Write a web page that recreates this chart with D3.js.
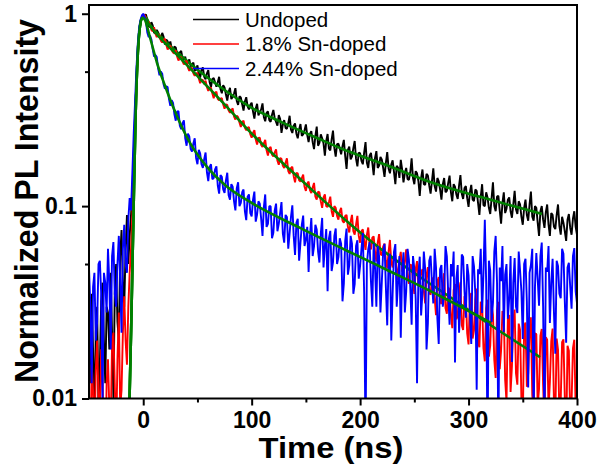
<!DOCTYPE html>
<html>
<head>
<meta charset="utf-8">
<script src="https://cdn.jsdelivr.net/npm/d3@7/dist/d3.min.js"></script>
<style>
  body { margin: 0; background: #fff; }
  svg text { font-family: "Liberation Sans", Arial, sans-serif; }
</style>
</head>
<body>
<div id="chart"></div>
<script>
// time grid of the measured decays (ns)
const timeStart = -50;
const timeStep = 1.25;

// measured decays, normalized PL intensity (one value per grid step, 20 per row = 25 ns)
const undoped = [
  0.02, 0.012, 0.035, 0.018, 0.008, 0.022, 0.03, 0.009, 0.015, 0.032, 0.04, 0.02, 0.012, 0.03, 0.028, 0.018, 0.045, 0.022, 0.01, 0.035,
  0.05, 0.025, 0.02, 0.055, 0.075, 0.04, 0.03, 0.06, 0.09, 0.05, 0.07, 0.09, 0.12, 0.19, 0.3, 0.45, 0.62, 0.78, 0.9, 0.95,
  0.97, 0.985, 0.99, 0.93, 0.863, 0.85, 0.903, 0.87, 0.797, 0.79, 0.824, 0.80, 0.758, 0.735, 0.795, 0.76, 0.691, 0.735, 0.719, 0.68,
  0.717, 0.66, 0.636, 0.675, 0.668, 0.615, 0.604, 0.63, 0.641, 0.585, 0.576, 0.598, 0.543, 0.56, 0.579, 0.532, 0.547, 0.556, 0.506, 0.51,
  0.539, 0.488, 0.465, 0.51, 0.526, 0.47, 0.456, 0.49, 0.509, 0.44, 0.416, 0.458, 0.463, 0.44, 0.417, 0.44, 0.470, 0.405, 0.386, 0.425,
  0.414, 0.38, 0.354, 0.392, 0.412, 0.36, 0.369, 0.385, 0.410, 0.352, 0.336, 0.372, 0.367, 0.338, 0.314, 0.35, 0.368, 0.33, 0.318, 0.336,
  0.345, 0.31, 0.285, 0.322, 0.340, 0.296, 0.307, 0.318, 0.342, 0.29, 0.276, 0.305, 0.311, 0.28, 0.274, 0.298, 0.316, 0.287, 0.274, 0.262,
  0.297, 0.284, 0.240, 0.265, 0.280, 0.255, 0.252, 0.27, 0.295, 0.25, 0.240, 0.262, 0.269, 0.238, 0.225, 0.25, 0.267, 0.232, 0.236, 0.248,
  0.266, 0.234, 0.215, 0.238, 0.245, 0.215, 0.198, 0.232, 0.259, 0.206, 0.213, 0.236, 0.225, 0.212, 0.183, 0.218, 0.237, 0.199, 0.195, 0.222,
  0.247, 0.2, 0.181, 0.21, 0.211, 0.2, 0.186, 0.205, 0.221, 0.182, 0.156, 0.196, 0.204, 0.175, 0.181, 0.2, 0.218, 0.176, 0.161, 0.19,
  0.188, 0.172, 0.165, 0.19, 0.215, 0.168, 0.158, 0.183, 0.189, 0.168, 0.145, 0.178, 0.193, 0.158, 0.162, 0.18, 0.175, 0.158, 0.142, 0.168,
  0.191, 0.157, 0.148, 0.165, 0.173, 0.15, 0.130, 0.162, 0.158, 0.14, 0.174, 0.155, 0.133, 0.148, 0.158, 0.138, 0.137, 0.15, 0.177, 0.14,
  0.130, 0.152, 0.148, 0.135, 0.113, 0.14, 0.155, 0.13, 0.129, 0.147, 0.144, 0.128, 0.116, 0.135, 0.157, 0.127, 0.119, 0.14, 0.135, 0.122,
  0.108, 0.13, 0.140, 0.118, 0.120, 0.132, 0.144, 0.118, 0.106, 0.13, 0.126, 0.115, 0.109, 0.128, 0.145, 0.116, 0.109, 0.124, 0.127, 0.11,
  0.099, 0.118, 0.129, 0.108, 0.106, 0.122, 0.120, 0.104, 0.090, 0.112, 0.130, 0.101, 0.100, 0.118, 0.111, 0.098, 0.091, 0.11, 0.133, 0.1,
  0.094, 0.112, 0.113, 0.095, 0.081, 0.104, 0.118, 0.092, 0.097, 0.108, 0.111, 0.094, 0.087, 0.102, 0.120, 0.096, 0.091, 0.106, 0.102, 0.088,
  0.080, 0.098, 0.108, 0.09, 0.084, 0.102, 0.119, 0.088, 0.084, 0.1, 0.098, 0.082, 0.070, 0.094, 0.100, 0.085, 0.077, 0.093, 0.102, 0.08,
  0.070, 0.092, 0.090, 0.078, 0.076, 0.09, 0.102, 0.079, 0.071, 0.088, 0.082, 0.074, 0.066, 0.085, 0.091, 0.077, 0.071, 0.086, 0.094, 0.078,
  0.071
];

const snLow = [
  0.009, 0.005, 0.015, 0.011, 0.006, 0.014, 0.02, 0.01, 0.008, 0.018, 0.012, 0.007, 0.004, 0.012, 0.016, 0.009, 0.007, 0.019, 0.022, 0.012,
  0.006, 0.016, 0.028, 0.009, 0.011, 0.022, 0.034, 0.02, 0.015, 0.03, 0.045, 0.06, 0.09, 0.15, 0.25, 0.42, 0.6, 0.78, 0.9, 0.96,
  0.99, 0.985, 0.95, 0.88, 0.909, 0.87, 0.825, 0.81, 0.850, 0.79, 0.755, 0.78, 0.771, 0.725, 0.709, 0.725, 0.742, 0.69, 0.651, 0.67,
  0.683, 0.645, 0.629, 0.62, 0.646, 0.60, 0.571, 0.595, 0.594, 0.565, 0.545, 0.56, 0.570, 0.525, 0.504, 0.522, 0.523, 0.49, 0.476, 0.488,
  0.493, 0.46, 0.435, 0.455, 0.452, 0.43, 0.449, 0.415, 0.397, 0.412, 0.412, 0.385, 0.364, 0.388, 0.393, 0.36, 0.355, 0.362, 0.364, 0.338,
  0.321, 0.338, 0.336, 0.314, 0.306, 0.315, 0.322, 0.292, 0.282, 0.295, 0.290, 0.272, 0.258, 0.274, 0.278, 0.255, 0.248, 0.256, 0.257, 0.236,
  0.227, 0.24, 0.248, 0.222, 0.209, 0.226, 0.227, 0.208, 0.203, 0.212, 0.221, 0.195, 0.183, 0.2, 0.203, 0.185, 0.181, 0.19, 0.197, 0.172,
  0.164, 0.178, 0.176, 0.162, 0.158, 0.168, 0.177, 0.152, 0.147, 0.158, 0.160, 0.143, 0.133, 0.149, 0.148, 0.136, 0.134, 0.14, 0.146, 0.126,
  0.120, 0.131, 0.134, 0.121, 0.117, 0.125, 0.132, 0.112, 0.108, 0.119, 0.118, 0.106, 0.098, 0.111, 0.115, 0.1, 0.099, 0.105, 0.112, 0.094,
  0.088, 0.1, 0.098, 0.089, 0.085, 0.094, 0.098, 0.084, 0.082, 0.089, 0.090, 0.078, 0.073, 0.083, 0.090, 0.074, 0.071, 0.08, 0.089, 0.07,
  0.0645, 0.074, 0.0758, 0.066, 0.0592, 0.071, 0.0774, 0.063, 0.0595, 0.0685, 0.0696, 0.058, 0.0515, 0.0645, 0.0716, 0.0565, 0.0554, 0.0615, 0.0639, 0.052,
  0.0475, 0.058, 0.0667, 0.051, 0.0480, 0.0565, 0.0553, 0.0478, 0.0412, 0.053, 0.0578, 0.046, 0.0448, 0.0515, 0.0596, 0.0432, 0.0395, 0.0498, 0.0491, 0.041,
  0.0350, 0.0472, 0.0518, 0.0385, 0.0395, 0.045, 0.0470, 0.0362, 0.0312, 0.0438, 0.0482, 0.0355, 0.0346, 0.0425, 0.0404, 0.0332, 0.0271, 0.0405, 0.0428, 0.0318,
  0.0310, 0.0392, 0.0448, 0.0295, 0.0276, 0.0378, 0.0368, 0.0272, 0.0232, 0.0365, 0.0394, 0.0258, 0.0269, 0.0352, 0.0402, 0.024, 0.0227, 0.034, 0.0336, 0.0218,
  0.0191, 0.0335, 0.0353, 0.0205, 0.0226, 0.0328, 0.0373, 0.0195, 0.0185, 0.0318, 0.0310, 0.0182, 0.0156, 0.0295, 0.0326, 0.0165, 0.0189, 0.0305, 0.0273, 0.0158,
  0.0128, 0.0288, 0.0318, 0.0142, 0.0178, 0.0285, 0.0273, 0.0125, 0.0096, 0.0262, 0.0272, 0.0108, 0.0147, 0.0255, 0.0290, 0.0135, 0.0118, 0.0245, 0.0227, 0.0098,
  0.0075, 0.0238, 0.0248, 0.0115, 0.0135, 0.0225, 0.0264, 0.0104, 0.0087, 0.0218, 0.0216, 0.0092, 0.0112, 0.0212, 0.0230, 0.0118, 0.0072, 0.0208, 0.0202, 0.0088,
  0.0122, 0.0198, 0.0231, 0.0095, 0.0080, 0.0205, 0.0179, 0.0083, 0.0098, 0.0196, 0.0203, 0.0102, 0.0060, 0.0188, 0.0177, 0.0078, 0.0096, 0.0182, 0.0202, 0.0089,
  0.0074
];

const snHigh = [
  0.048, 0.03, 0.012, 0.038, 0.045, 0.02, 0.025, 0.05, 0.052, 0.035, 0.009, 0.045, 0.04, 0.028, 0.06, 0.04, 0.018, 0.055, 0.065, 0.035,
  0.03, 0.05, 0.07, 0.042, 0.022, 0.06, 0.08, 0.05, 0.045, 0.085, 0.11, 0.095, 0.15, 0.24, 0.35, 0.52, 0.7, 0.85, 0.93, 0.98,
  1.0, 0.96, 0.911, 0.80, 0.757, 0.77, 0.737, 0.655, 0.599, 0.61, 0.595, 0.52, 0.479, 0.50, 0.488, 0.43, 0.407, 0.42, 0.416, 0.36,
  0.332, 0.355, 0.344, 0.30, 0.278, 0.31, 0.312, 0.262, 0.251, 0.27, 0.279, 0.225, 0.206, 0.238, 0.230, 0.198, 0.192, 0.212, 0.225, 0.178,
  0.165, 0.196, 0.188, 0.165, 0.158, 0.176, 0.190, 0.15, 0.135, 0.16, 0.165, 0.138, 0.140, 0.155, 0.161, 0.128, 0.116, 0.145, 0.142, 0.122,
  0.117, 0.136, 0.149, 0.114, 0.108, 0.13, 0.126, 0.106, 0.095, 0.124, 0.133, 0.1, 0.104, 0.118, 0.122, 0.094, 0.0846, 0.112, 0.115, 0.092,
  0.0885, 0.108, 0.119, 0.083, 0.0905, 0.106, 0.103, 0.086, 0.070, 0.099, 0.115, 0.078, 0.0808, 0.1, 0.0999, 0.068, 0.0727, 0.095, 0.103, 0.074,
  0.0809, 0.092, 0.105, 0.072, 0.0646, 0.09, 0.0878, 0.06, 0.0723, 0.088, 0.101, 0.07, 0.0557, 0.082, 0.0859, 0.052, 0.0645, 0.08, 0.0892, 0.062,
  0.067, 0.078, 0.0454, 0.07, 0.0866, 0.055, 0.0618, 0.08, 0.0755, 0.058, 0.0509, 0.072, 0.0868, 0.048, 0.062, 0.076, 0.0361, 0.068, 0.0744, 0.046,
  0.051, 0.07, 0.0765, 0.05, 0.0543, 0.068, 0.0637, 0.032, 0.0395, 0.066, 0.0764, 0.044, 0.0492, 0.07, 0.0638, 0.035, 0.0393, 0.062, 0.0664, 0.042,
  0.049, 0.06, 0.0724, 0.035, 0.006, 0.05, 0.0598, 0.065, 0.0406, 0.03, 0.0638, 0.048, 0.030, 0.062, 0.055, 0.028, 0.0402, 0.058, 0.0637, 0.038,
  0.024, 0.052, 0.0566, 0.02, 0.0353, 0.058, 0.0635, 0.03, 0.0405, 0.055, 0.0207, 0.046, 0.0576, 0.028, 0.036, 0.06, 0.0528, 0.038, 0.0242, 0.055,
  0.0473, 0.033, 0.012, 0.045, 0.0546, 0.027, 0.0357, 0.058, 0.0472, 0.018, 0.0246, 0.052, 0.0552, 0.04, 0.0312, 0.06, 0.048, 0.026, 0.0192, 0.047,
  0.0494, 0.03, 0.0356, 0.062, 0.0546, 0.035, 0.0242, 0.05, 0.0431, 0.058, 0.0154, 0.042, 0.0494, 0.022, 0.0312, 0.056, 0.0544, 0.036, 0.0263, 0.05,
  0.0437, 0.028, 0.0192, 0.055, 0.0488, 0.035, 0.0111, 0.047, 0.0444, 0.06, 0.0278, 0.045, 0.085, 0.04, 0.005, 0.052, 0.0463, 0.025, 0.0315, 0.058,
  0.070, 0.04, 0.006, 0.048, 0.0407, 0.062, 0.0222, 0.044, 0.050, 0.026, 0.0333, 0.055, 0.0155, 0.04, 0.0537, 0.03, 0.0278, 0.058, 0.0463, 0.036,
  0.0204, 0.05, 0.0532, 0.032, 0.0114, 0.045, 0.0494, 0.06, 0.007, 0.038, 0.057, 0.042, 0.0304, 0.055, 0.0646, 0.03, 0.007, 0.048, 0.0456, 0.062,
  0.0247, 0.04, 0.0532, 0.028, 0.0171, 0.052, 0.0488, 0.035, 0.0332, 0.06, 0.0566, 0.032, 0.0195, 0.048, 0.0507, 0.038, 0.0293, 0.055, 0.0605, 0.036,
  0.0312
];

// fitted curves, [time, intensity]
const fitUndoped = [
  [-13, 0.008], [-11, 0.025], [-9, 0.09], [-7, 0.3], [-5, 0.62], [-3, 0.86], [-1, 0.95], [2, 0.96], [6, 0.88],
  [15.5, 0.768], [33.9, 0.612], [52.4, 0.499], [70.8, 0.417], [98.5, 0.328], [128.9, 0.271], [160.3, 0.226],
  [190.7, 0.191], [221.1, 0.166], [264.5, 0.1336], [310.6, 0.1117], [367.7, 0.0911]
];
const fitLow = [
  [-13, 0.008], [-11, 0.025], [-9, 0.09], [-7, 0.3], [-5, 0.62], [-3, 0.86], [-1, 0.95], [1, 0.955], [5, 0.885],
  [15.5, 0.75], [33.9, 0.59], [52.4, 0.459], [75.4, 0.336], [98.5, 0.243], [142.7, 0.1418], [190.7, 0.0808],
  [227.6, 0.0551], [255.2, 0.0428], [282.9, 0.0337], [313.3, 0.0256], [365.9, 0.01642]
];
const fitHigh = [
  [-13, 0.008], [-11, 0.025], [-9, 0.09], [-7, 0.3], [-5, 0.62], [-3, 0.86], [-1, 0.95], [1, 0.94], [6.3, 0.75],
  [12.7, 0.556], [20.1, 0.422], [27.5, 0.328], [43.1, 0.2132], [58.8, 0.160], [75.4, 0.1289], [98.5, 0.1051],
  [144.6, 0.077], [221.1, 0.0477], [273.7, 0.0341], [320.7, 0.0247]
];

const seriesNames = ['Undoped', '1.8% Sn-doped', '2.44% Sn-doped'];
const seriesColors = ['#000000', '#ff0000', '#0000ff'];
const fitColor = '#008000';

const xTicks = [0, 100, 200, 300, 400];
const xMinorTicks = [50, 150, 250, 350];
const yTicks = [0.01, 0.1, 1];
const yTickLabels = ['0.01', '0.1', '1'];
const yMinorTicks = [0.05, 0.5];

const width = 600;
const height = 472;
const margin = { top: 5, right: 23, bottom: 73.5, left: 89 };
const plotBottom = height - margin.bottom;

const x = d3.scaleLinear()
    .domain([-50, 400])
    .range([margin.left, width - margin.right]);

const y = d3.scaleLog()
    .domain([0.01, 1.11])
    .range([plotBottom, margin.top]);

const svg = d3.select('#chart').append('svg')
    .attr('width', width)
    .attr('height', height);

svg.append('clipPath')
    .attr('id', 'plot-clip')
    .append('rect')
    .attr('x', margin.left)
    .attr('y', margin.top)
    .attr('width', width - margin.right - margin.left)
    .attr('height', plotBottom - margin.top);

const toPoints = values => values.map((v, i) => [timeStart + i * timeStep, v]);

const dataLine = d3.line()
    .x(d => x(d[0]))
    .y(d => y(Math.max(d[1], 0.002)));

const fitLine = d3.line()
    .x(d => x(d[0]))
    .y(d => y(d[1]))
    .curve(d3.curveMonotoneX);

const plot = svg.append('g').attr('clip-path', 'url(#plot-clip)');

//each fit is drawn right after its own trace
const traces = [undoped, snLow, snHigh];
const fits = [fitUndoped, fitLow, fitHigh];

traces.forEach((values, i) => {
    plot.append('path')
        .attr('d', dataLine(toPoints(values)))
        .attr('fill', 'none')
        .attr('stroke', seriesColors[i])
        .attr('stroke-width', 1.9)
        .attr('stroke-linejoin', 'bevel');

    plot.append('path')
        .attr('d', fitLine(fits[i]))
        .attr('fill', 'none')
        .attr('stroke', fitColor)
        .attr('stroke-width', 2.6);
});

//axes
const styleAxis = g => {
    g.select('.domain').remove();
    g.selectAll('line').attr('stroke', '#000').attr('stroke-width', 2);
    g.selectAll('text')
        .attr('fill', '#000')
        .style('font-family', '"Liberation Sans", Arial, sans-serif')
        .style('font-size', '23px')
        .style('font-weight', 'bold');
};

svg.append('g')
    .attr('transform', `translate(0, ${plotBottom})`)
    .call(d3.axisBottom(x).tickValues(xTicks).tickSize(7).tickPadding(6).tickFormat(d3.format('d')))
    .call(styleAxis);

svg.append('g')
    .attr('transform', `translate(0, ${plotBottom})`)
    .call(d3.axisBottom(x).tickValues(xMinorTicks).tickSize(4).tickFormat(''))
    .call(styleAxis);

svg.append('g')
    .attr('transform', `translate(${margin.left}, 0)`)
    .call(d3.axisLeft(y).tickValues(yTicks).tickSize(7).tickPadding(5).tickFormat((d, i) => yTickLabels[i]))
    .call(styleAxis);

svg.append('g')
    .attr('transform', `translate(${margin.left}, 0)`)
    .call(d3.axisLeft(y).tickValues(yMinorTicks).tickSize(4).tickFormat(''))
    .call(styleAxis);

svg.append('rect')
    .attr('x', margin.left)
    .attr('y', margin.top)
    .attr('width', width - margin.right - margin.left)
    .attr('height', plotBottom - margin.top)
    .attr('fill', 'none')
    .attr('stroke', '#000')
    .attr('stroke-width', 2);

//axis titles
svg.append('text')
    .attr('x', 331)
    .attr('y', 457.5)
    .attr('text-anchor', 'middle')
    .attr('textLength', 145)
    .attr('lengthAdjust', 'spacingAndGlyphs')
    .style('font-size', '29px')
    .style('font-weight', 'bold')
    .text('Time (ns)');

svg.append('text')
    .attr('transform', 'translate(38, 201) rotate(-90)')
    .attr('text-anchor', 'middle')
    .attr('textLength', 364)
    .attr('lengthAdjust', 'spacingAndGlyphs')
    .style('font-size', '33px')
    .style('font-weight', 'bold')
    .text('Normalized PL Intensity');

//legend
const legend = svg.append('g')
    .selectAll('g')
    .data(seriesNames)
    .join('g')
    .attr('transform', (d, i) => `translate(193, ${19.5 + i * 24.5})`);

legend.append('line')
    .attr('x1', 0)
    .attr('x2', 46)
    .attr('stroke', (d, i) => seriesColors[i])
    .attr('stroke-width', 1.6);

legend.append('text')
    .attr('x', 52)
    .attr('y', 7.3)
    .style('font-size', '20.5px')
    .text(d => d);
</script>
</body>
</html>
